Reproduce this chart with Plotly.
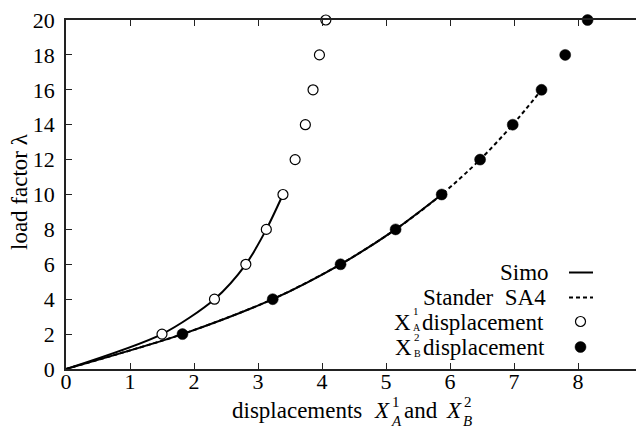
import plotly.graph_objects as go

# ---- data ----
load_factor = [2, 4, 6, 8, 10, 12, 14, 16, 18, 20]
disp_xa1 = [1.50, 2.32, 2.81, 3.13, 3.39, 3.58, 3.74, 3.86, 3.96, 4.06]   # open circles
disp_xb2 = [1.82, 3.23, 4.29, 5.15, 5.87, 6.47, 6.98, 7.43, 7.80, 8.15]   # filled circles
simo_a_n = 5        # Simo curve for X_A^1 runs through first 5 points (to lambda=10)
simo_b_n = 5        # Simo curve for X_B^2 runs through first 5 points (to lambda=10)
stander_n = 8       # Stander SA4 (dashed) runs to lambda=16

x_ticks = list(range(0, 10))
y_ticks = list(range(0, 21, 2))

FONT = "Liberation Serif"
OFF = 8                      # page body margin of the viewer
W, H = 644 - OFF, 430 - OFF
ML, MT = 66 - OFF, 20 - OFF
MR = W - (642 - OFF)
MB = H - (369 - OFF)
PW, PH = W - ML - MR, H - MT - MB

def px(xp):   # reference pixel x -> paper
    return (xp - OFF - ML) / PW

def py(yp):   # reference pixel y -> paper
    return 1 - (yp - OFF - MT) / PH

fig = go.Figure()

# Simo curves (solid)
fig.add_trace(go.Scatter(x=[0] + disp_xa1[:simo_a_n], y=[0] + load_factor[:simo_a_n],
                         mode="lines", line=dict(color="black", width=2, shape="spline", smoothing=0.8),
                         showlegend=False, hoverinfo="skip"))
fig.add_trace(go.Scatter(x=[0] + disp_xb2[:simo_b_n], y=[0] + load_factor[:simo_b_n],
                         mode="lines", line=dict(color="black", width=2, shape="spline", smoothing=0.8),
                         showlegend=False, hoverinfo="skip"))
# Stander SA4 (dashed)
fig.add_trace(go.Scatter(x=[0] + disp_xb2[:stander_n], y=[0] + load_factor[:stander_n],
                         mode="lines", line=dict(color="black", width=2, dash="4px,3px", shape="spline", smoothing=0.8),
                         showlegend=False, hoverinfo="skip"))
# markers
fig.add_trace(go.Scatter(x=disp_xa1, y=load_factor, mode="markers",
                         marker=dict(symbol="circle", size=10, color="white",
                                     line=dict(color="black", width=1.2)),
                         cliponaxis=False, showlegend=False))
fig.add_trace(go.Scatter(x=disp_xb2, y=load_factor, mode="markers",
                         marker=dict(symbol="circle", size=11, color="black",
                                     line=dict(color="black", width=0.5)),
                         cliponaxis=False, showlegend=False))

ann = []
def text(s, xp, yp, size=23, xanchor="left", italic=False, angle=0):
    if italic:
        s = "<i>" + s + "</i>"
    ann.append(dict(text=s, x=px(xp), y=py(yp), xref="paper", yref="paper",
                    xanchor=xanchor, yanchor="middle", showarrow=False,
                    textangle=angle, borderpad=0,
                    font=dict(family=FONT, size=size, color="black")))

# x-axis title (stacked sub/superscripts built from pieces)
text("displacements", 297, 410, xanchor="center")
text("X", 382, 410, xanchor="center", italic=True)
text("1", 391, 402, size=15)
text("A", 390, 421, size=15, italic=True)
text("and", 421, 410, xanchor="center")
text("X", 454, 410, xanchor="center", italic=True)
text("2", 463, 402, size=15)
text("B", 462, 421, size=15, italic=True)

# y-axis title
text("load factor λ", 19, 192, xanchor="center", angle=-90)

# legend (text right-aligned, sample on the right)
text("Simo", 550, 272, xanchor="right")
text("Stander  SA4", 547, 297, xanchor="right")
text("displacement", 545, 322, xanchor="right")
text("X", 412, 322, xanchor="right")
text("1", 412, 311, size=11)
text("A", 412, 327.5, size=10)
text("displacement", 546, 347, xanchor="right")
text("X", 413, 347, xanchor="right")
text("2", 413, 337, size=11)
text("B", 413, 353, size=10)

shapes = [
    dict(type="line", xref="paper", yref="paper", x0=px(569), x1=px(593), y0=py(272.5), y1=py(272.5),
         line=dict(color="black", width=2)),
    dict(type="line", xref="paper", yref="paper", x0=px(569), x1=px(593), y0=py(297.5), y1=py(297.5),
         line=dict(color="black", width=2, dash="4px,3px")),
    dict(type="circle", xref="paper", yref="paper", xsizemode="pixel", ysizemode="pixel",
         xanchor=px(580.5), yanchor=py(321.5), x0=-5, x1=5, y0=-5, y1=5,
         fillcolor="white", line=dict(color="black", width=1.2)),
    dict(type="circle", xref="paper", yref="paper", xsizemode="pixel", ysizemode="pixel",
         xanchor=px(580.5), yanchor=py(347), x0=-5.5, x1=5.5, y0=-5.5, y1=5.5,
         fillcolor="black", line=dict(color="black", width=0.5)),
]

axis_common = dict(showline=True, linecolor="#222", linewidth=1.5, mirror="ticks",
                   ticks="inside", ticklen=6, tickwidth=1.2, tickcolor="#222",
                   showgrid=False, zeroline=False, ticklabeloverflow="allow",
                   tickfont=dict(family=FONT, size=22, color="black"))

fig.update_layout(
    width=W, height=H,
    margin=dict(l=ML, r=MR, t=MT, b=MB, autoexpand=False),
    paper_bgcolor="white", plot_bgcolor="white",
    xaxis=dict(range=[0, 9], tickvals=x_ticks, ticktext=[str(v) for v in x_ticks],
               ticklabelstandoff=-8, **axis_common),
    yaxis=dict(range=[0, 20], tickvals=y_ticks, ticktext=[str(v) for v in y_ticks],
               ticklabelstandoff=5, **axis_common),
    annotations=ann, shapes=shapes, showlegend=False,
)

fig.write_html("out.html")
